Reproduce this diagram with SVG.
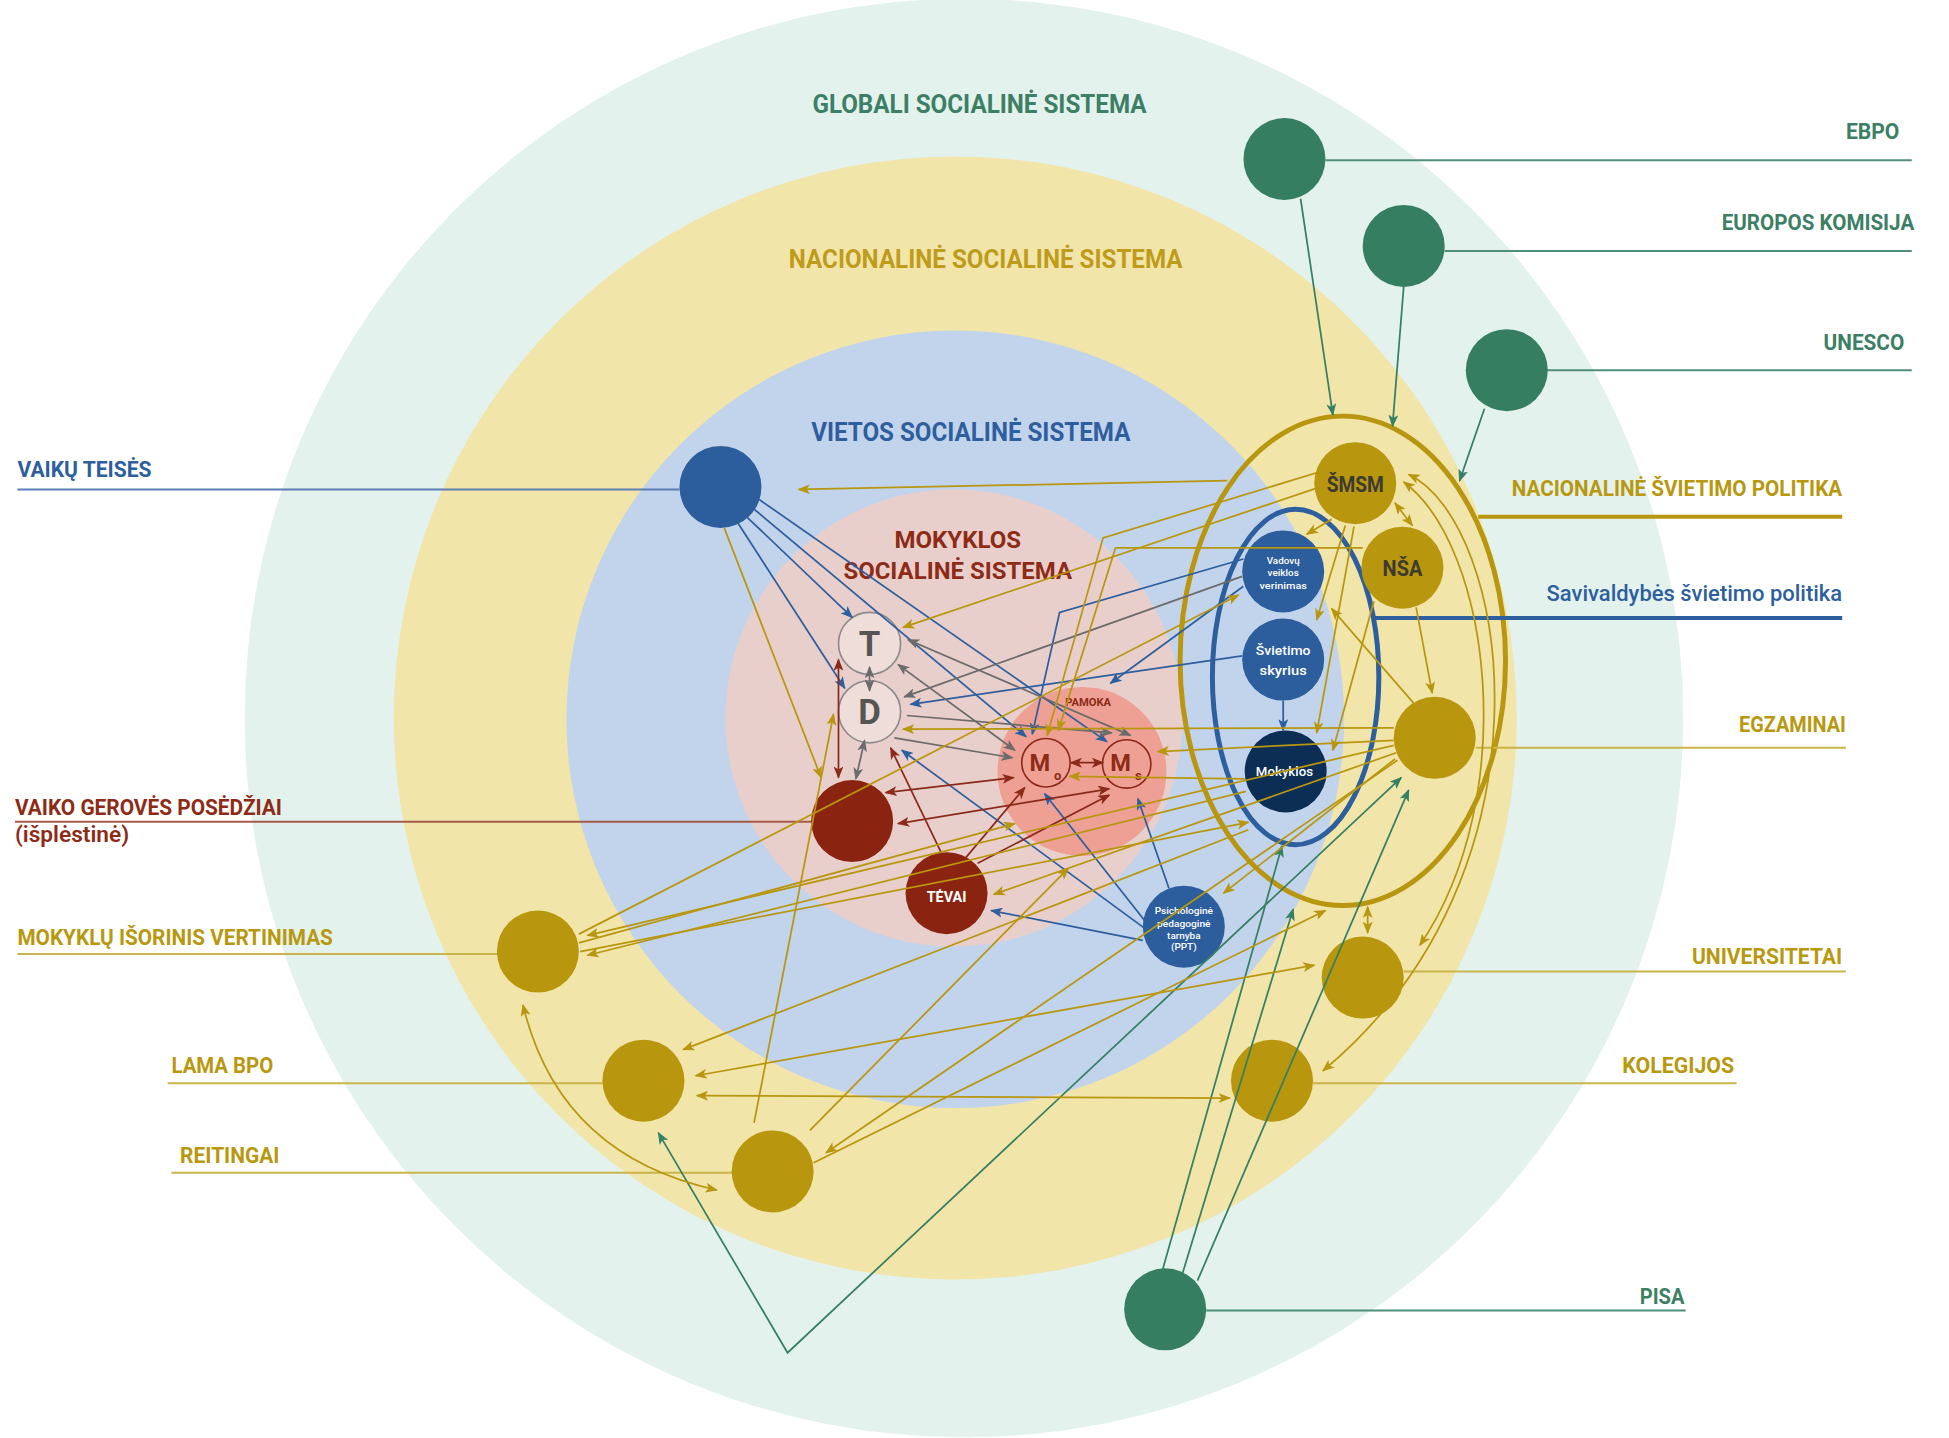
<svg xmlns="http://www.w3.org/2000/svg" width="1949" height="1438" viewBox="0 0 1949 1438">
<style>
.t{font-family:Roboto,"Liberation Sans",sans-serif;font-weight:700;}
.c{fill:none;stroke-width:1.4;}
.cg{stroke:#357f62;}
.cb{stroke:#2d5e9d;}
.cgr{stroke:#6b6b6b;}
.cr{stroke:#8b2a1a;}
.cy{stroke:#b8960f;}
.ll{fill:none;stroke-width:1.6;}
</style>
<defs>
<marker id="aGr" viewBox="0 0 10 8" refX="9" refY="4" markerWidth="10" markerHeight="8" markerUnits="userSpaceOnUse" orient="auto-start-reverse"><path d="M0,0 L10,4 L0,8 L2.5,4 Z" fill="#357f62"/></marker>
<marker id="aB" viewBox="0 0 10 8" refX="9" refY="4" markerWidth="10" markerHeight="8" markerUnits="userSpaceOnUse" orient="auto-start-reverse"><path d="M0,0 L10,4 L0,8 L2.5,4 Z" fill="#2d5e9d"/></marker>
<marker id="aG" viewBox="0 0 10 8" refX="9" refY="4" markerWidth="10" markerHeight="8" markerUnits="userSpaceOnUse" orient="auto-start-reverse"><path d="M0,0 L10,4 L0,8 L2.5,4 Z" fill="#6b6b6b"/></marker>
<marker id="aR" viewBox="0 0 10 8" refX="9" refY="4" markerWidth="10" markerHeight="8" markerUnits="userSpaceOnUse" orient="auto-start-reverse"><path d="M0,0 L10,4 L0,8 L2.5,4 Z" fill="#8b2a1a"/></marker>
<marker id="aY" viewBox="0 0 10 8" refX="9" refY="4" markerWidth="10" markerHeight="8" markerUnits="userSpaceOnUse" orient="auto-start-reverse"><path d="M0,0 L10,4 L0,8 L2.5,4 Z" fill="#b8960f"/></marker>
</defs>
<rect width="1949" height="1438" fill="#ffffff"/>
<g transform="scale(1.2422)">
<g id="rings">
<circle cx="776" cy="578" r="579" fill="#e3f2ed"/>
<circle cx="769" cy="578" r="452" fill="#f1e5a9"/>
<circle cx="769" cy="579" r="313" fill="#c2d4ec"/>
<circle cx="768" cy="578" r="184" fill="#e9cfcb"/>
<circle cx="871" cy="621" r="68" fill="#eda093"/>
<ellipse cx="1081" cy="532" rx="131" ry="197" fill="none" stroke="#b8960f" stroke-width="4"/>
<ellipse cx="1043" cy="545" rx="67" ry="135" fill="none" stroke="#2d5e9d" stroke-width="4"/>
</g>
<g id="titles" class="t">
<text x="654" y="91" font-size="21" fill="#3c7f65" textLength="269" lengthAdjust="spacingAndGlyphs">GLOBALI SOCIALINĖ SISTEMA</text>
<text x="635" y="216" font-size="21" fill="#bf9b1b" textLength="317" lengthAdjust="spacingAndGlyphs">NACIONALINĖ SOCIALINĖ SISTEMA</text>
<text x="653" y="355" font-size="21" fill="#2d5e9d" textLength="257" lengthAdjust="spacingAndGlyphs">VIETOS SOCIALINĖ SISTEMA</text>
<text x="720" y="441" font-size="20" fill="#8e2b17" textLength="102" lengthAdjust="spacingAndGlyphs">MOKYKLOS</text>
<text x="679" y="466" font-size="20" fill="#8e2b17" textLength="184" lengthAdjust="spacingAndGlyphs">SOCIALINĖ SISTEMA</text>
<text x="876" y="568" font-size="9" fill="#8e2b17" text-anchor="middle" textLength="37" lengthAdjust="spacingAndGlyphs">PAMOKA</text>
</g>
<g id="labels" class="t" font-size="18">
<line class="ll" x1="1067" y1="129" x2="1539" y2="129" stroke="#4f8f78"/>
<text x="1529" y="112" text-anchor="end" fill="#3c7f65" textLength="43" lengthAdjust="spacingAndGlyphs">EBPO</text>
<line class="ll" x1="1163" y1="202" x2="1539" y2="202" stroke="#4f8f78"/>
<text x="1541" y="185" text-anchor="end" fill="#3c7f65" textLength="155" lengthAdjust="spacingAndGlyphs">EUROPOS KOMISIJA</text>
<line class="ll" x1="1245" y1="298" x2="1539" y2="298" stroke="#4f8f78"/>
<text x="1533" y="282" text-anchor="end" fill="#3c7f65" textLength="65" lengthAdjust="spacingAndGlyphs">UNESCO</text>
<line x1="1190" y1="416" x2="1483" y2="416" stroke="#b8960f" stroke-width="3.4"/>
<text x="1483" y="399" text-anchor="end" fill="#b8980f" textLength="266" lengthAdjust="spacingAndGlyphs">NACIONALINĖ ŠVIETIMO POLITIKA</text>
<line x1="1106" y1="497.5" x2="1483" y2="497.5" stroke="#2d5e9d" stroke-width="3.4"/>
<text x="1483" y="484" text-anchor="end" fill="#2d5e9d" font-weight="500" textLength="238" lengthAdjust="spacingAndGlyphs">Savivaldybės švietimo politika</text>
<line class="ll" x1="1188" y1="602" x2="1486" y2="602" stroke="#cbb54a"/>
<text x="1486" y="589" text-anchor="end" fill="#b8980f" textLength="86" lengthAdjust="spacingAndGlyphs">EGZAMINAI</text>
<line class="ll" x1="1130" y1="782" x2="1486" y2="782" stroke="#cbb54a"/>
<text x="1483" y="776" text-anchor="end" fill="#b8980f" textLength="121" lengthAdjust="spacingAndGlyphs">UNIVERSITETAI</text>
<line class="ll" x1="1057" y1="872" x2="1398" y2="872" stroke="#cbb54a"/>
<text x="1396" y="864" text-anchor="end" fill="#b8980f" textLength="90" lengthAdjust="spacingAndGlyphs">KOLEGIJOS</text>
<line class="ll" x1="971" y1="1055" x2="1357" y2="1055" stroke="#4f8f78"/>
<text x="1356" y="1050" text-anchor="end" fill="#3c7f65" textLength="36" lengthAdjust="spacingAndGlyphs">PISA</text>
<line class="ll" x1="14" y1="394" x2="547" y2="394" stroke="#5b7fb3"/>
<text x="14" y="384" fill="#2d5e9d" textLength="108" lengthAdjust="spacingAndGlyphs">VAIKŲ TEISĖS</text>
<line class="ll" x1="12" y1="661.5" x2="654" y2="661.5" stroke="#a55a4a"/>
<text x="12" y="656" fill="#8e2b17" textLength="215" lengthAdjust="spacingAndGlyphs">VAIKO GEROVĖS POSĖDŽIAI</text>
<text x="12" y="678" fill="#8e2b17" font-weight="600" textLength="92" lengthAdjust="spacingAndGlyphs">(išplėstinė)</text>
<line class="ll" x1="14" y1="768" x2="401" y2="768" stroke="#cbb54a"/>
<text x="14" y="761" fill="#b8980f" textLength="254" lengthAdjust="spacingAndGlyphs">MOKYKLŲ IŠORINIS VERTINIMAS</text>
<line class="ll" x1="135" y1="872" x2="486" y2="872" stroke="#cbb54a"/>
<text x="138" y="864" fill="#b8980f" textLength="82" lengthAdjust="spacingAndGlyphs">LAMA BPO</text>
<line class="ll" x1="138" y1="944" x2="590" y2="944" stroke="#cbb54a"/>
<text x="145" y="936" fill="#b8980f" textLength="80" lengthAdjust="spacingAndGlyphs">REITINGAI</text>
</g>
<g id="nodes" class="t">
<g id="n-ebpo"><circle cx="1034" cy="128" r="33" fill="#367e62"/></g>
<g id="n-ek"><circle cx="1130" cy="198" r="33" fill="#367e62"/></g>
<g id="n-unesco"><circle cx="1213" cy="298" r="33" fill="#367e62"/></g>
<g id="n-pisa"><circle cx="938" cy="1054" r="33" fill="#367e62"/></g>
<g id="n-vt"><circle cx="580" cy="392" r="33" fill="#2c5d9c"/></g>
<g id="n-smsm"><circle cx="1091" cy="389" r="33" fill="#b8960e"/><text x="1091" y="396" font-size="18" fill="#3d3a30" text-anchor="middle" textLength="46" lengthAdjust="spacingAndGlyphs">ŠMSM</text></g>
<g id="n-nsa"><circle cx="1129" cy="457" r="33" fill="#b8960e"/><text x="1129" y="464" font-size="18" fill="#3d3a30" text-anchor="middle" textLength="32" lengthAdjust="spacingAndGlyphs">NŠA</text></g>
<g id="n-egz"><circle cx="1155" cy="594" r="33" fill="#b8960e"/></g>
<g id="n-uni"><circle cx="1097" cy="787" r="33" fill="#b8960e"/></g>
<g id="n-kol"><circle cx="1024" cy="870" r="33" fill="#b8960e"/></g>
<g id="n-miv"><circle cx="433" cy="766" r="33" fill="#b8960e"/></g>
<g id="n-lama"><circle cx="518" cy="870" r="33" fill="#b8960e"/></g>
<g id="n-reit"><circle cx="622" cy="943" r="33" fill="#b8960e"/></g>
<g id="n-vadovu"><circle cx="1033" cy="460" r="33" fill="#2c5d9c"/>
<text x="1033" y="454" font-size="8" fill="#ffffff" text-anchor="middle" font-weight="500">Vadovų</text>
<text x="1033" y="464" font-size="8" fill="#ffffff" text-anchor="middle" font-weight="500">veiklos</text>
<text x="1033" y="474" font-size="8" fill="#ffffff" text-anchor="middle" font-weight="500" textLength="38" lengthAdjust="spacingAndGlyphs">verinimas</text></g>
<g id="n-svietimo"><circle cx="1033" cy="531" r="33" fill="#2c5d9c"/>
<text x="1033" y="527" font-size="11" fill="#ffffff" text-anchor="middle" font-weight="500" textLength="44" lengthAdjust="spacingAndGlyphs">Švietimo</text>
<text x="1033" y="543" font-size="11" fill="#ffffff" text-anchor="middle" font-weight="500" textLength="38" lengthAdjust="spacingAndGlyphs">skyrius</text></g>
<g id="n-mokyklos"><circle cx="1035" cy="621" r="33" fill="#0c2e55"/>
<text x="1034" y="625" font-size="11" fill="#ffffff" text-anchor="middle" font-weight="500" textLength="46" lengthAdjust="spacingAndGlyphs">Mokyklos</text></g>
<g id="n-vg"><circle cx="686" cy="661" r="33" fill="#8a2410"/></g>
<g id="n-tevai"><circle cx="762" cy="719" r="33" fill="#8a2410"/><text x="762" y="726" font-size="12" fill="#ffffff" text-anchor="middle" textLength="32" lengthAdjust="spacingAndGlyphs">TĖVAI</text></g>
<g id="n-ppt"><circle cx="953" cy="746" r="33" fill="#2c5d9c"/>
<text x="953" y="736" font-size="8" fill="#ffffff" text-anchor="middle" font-weight="500" textLength="47" lengthAdjust="spacingAndGlyphs">Psichologinė</text>
<text x="953" y="746" font-size="8" fill="#ffffff" text-anchor="middle" font-weight="500" textLength="43" lengthAdjust="spacingAndGlyphs">pedagoginė</text>
<text x="953" y="756" font-size="8" fill="#ffffff" text-anchor="middle" font-weight="500">tarnyba</text>
<text x="953" y="765" font-size="8" fill="#ffffff" text-anchor="middle" font-weight="500">(PPT)</text></g>
<g id="n-t"><circle cx="700" cy="518" r="25" fill="#efddd9" stroke="#8a8a8a" stroke-width="1.3"/><text x="700" y="528" font-size="28" fill="#555555" text-anchor="middle">T</text></g>
<g id="n-d"><circle cx="700" cy="573" r="25" fill="#efddd9" stroke="#8a8a8a" stroke-width="1.3"/><text x="700" y="583" font-size="28" fill="#555555" text-anchor="middle">D</text></g>
<g id="n-mo"><circle cx="842" cy="614" r="19.5" fill="none" stroke="#8b2a1a" stroke-width="1.3"/><text x="837" y="621" font-size="19" fill="#8e2b17" text-anchor="middle">M</text><text x="851.5" y="628" font-size="10.5" fill="#8e2b17" text-anchor="middle">o</text></g>
<g id="n-ms"><circle cx="907" cy="615" r="19.5" fill="none" stroke="#8b2a1a" stroke-width="1.3"/><text x="902" y="621" font-size="19" fill="#8e2b17" text-anchor="middle">M</text><text x="916.5" y="628" font-size="10.5" fill="#8e2b17" text-anchor="middle">s</text></g>
</g>
<g id="connectors">
<g class="c cg" marker-end="url(#aGr)">
<path d="M1047,160 L1073,334"/>
<path d="M1130,231 L1121,343"/>
<path d="M1195,329 L1175,387"/>
<path d="M936,1022 L1032,681"/>
<path d="M952,1025 L1041,732"/>
<path d="M964,1031 L1134,636"/>
<path d="M530,912 L634,1089 L1128,626" marker-start="url(#aGr)"/>
</g>
<g class="c cb" marker-end="url(#aB)">
<path d="M600,415 L686,497"/>
<path d="M594,421 L680,554"/>
<path d="M606,409 L826,593"/>
<path d="M611,402 L891,597"/>
<path d="M1001,450 L853,493 L831,591"/>
<path d="M1001,472 L894,550"/>
<path d="M1000,528 L733,567"/>
<path d="M1033,564 L1033,588"/>
<path d="M923,743 L841,639"/>
<path d="M941,715 L916,643"/>
<path d="M921,747 L726,604"/>
<path d="M920,757 L798,733"/>
</g>
<g class="c cgr" marker-end="url(#aG)">
<path d="M1000,464 L728,561"/>
<path d="M700,537 L700,556" marker-start="url(#aG)"/>
<path d="M696,596 L689,627" marker-start="url(#aG)"/>
<path d="M731,515 L910,592" marker-start="url(#aG)"/>
<path d="M723,535 L817,604" marker-start="url(#aG)"/>
<path d="M730,576 L895,590"/>
<path d="M720,594 L815,610"/>
</g>
<g class="c cr" marker-end="url(#aR)">
<path d="M675,531 L675,626" marker-start="url(#aR)"/>
<path d="M862,614 L888,614" marker-start="url(#aR)"/>
<path d="M713,638 L816,626" marker-start="url(#aR)"/>
<path d="M723,663 L893,635" marker-start="url(#aR)"/>
<path d="M758,687 L717,602"/>
<path d="M777,691 L825,634"/>
<path d="M787,695 L893,640"/>
</g>
<g class="c cy" marker-end="url(#aY)">
<path d="M988,387 L643,394"/>
<path d="M1060,393 L727,505"/>
<path d="M1062,380 L888,433 L843,592"/>
<path d="M1097,441 L898,441 L852,588"/>
<path d="M1072,418 L1052,430"/>
<path d="M1083,423 L1060,499"/>
<path d="M1090,424 L1060,590"/>
<path d="M1106,484 L1073,604"/>
<path d="M1138,566 L1072,490"/>
<path d="M1140,489 L1153,558"/>
<path d="M1123,405 L1137,423" marker-start="url(#aY)"/>
<path d="M1122,586 L727,587"/>
<path d="M1122,596 L932,605"/>
<path d="M1002,627 L861,625"/>
<path d="M1124,606 L800,720"/>
<path d="M583,425 L661,626"/>
<path d="M607,904 L671,575"/>
<path d="M652,910 L860,699"/>
<path d="M1125,612 L665,928"/>
<path d="M655,936 L1067,733"/>
<path d="M466,752 L997,479"/>
<path d="M467,766 L1005,662"/>
<path d="M1122,600 L473,753"/>
<path d="M1003,637 L473,769"/>
<path d="M1005,668 L550,845"/>
<path d="M560,866 L1058,777" marker-start="url(#aY)"/>
<path d="M561,882 L990,884" marker-start="url(#aY)"/>
<path d="M421,809 Q450,930 577,958" marker-start="url(#aY)"/>
<path d="M1130,388 C1200,440 1225,640 1143,761" marker-start="url(#aY)"/>
<path d="M1134,382 C1215,420 1260,700 1065,862" marker-start="url(#aY)"/>
<path d="M1101,730 L1101,751" marker-start="url(#aY)"/>
<path d="M466,759 L817,663"/>
<path d="M1123,611 L985,719"/>
</g>
</g>
</g>
</svg>
